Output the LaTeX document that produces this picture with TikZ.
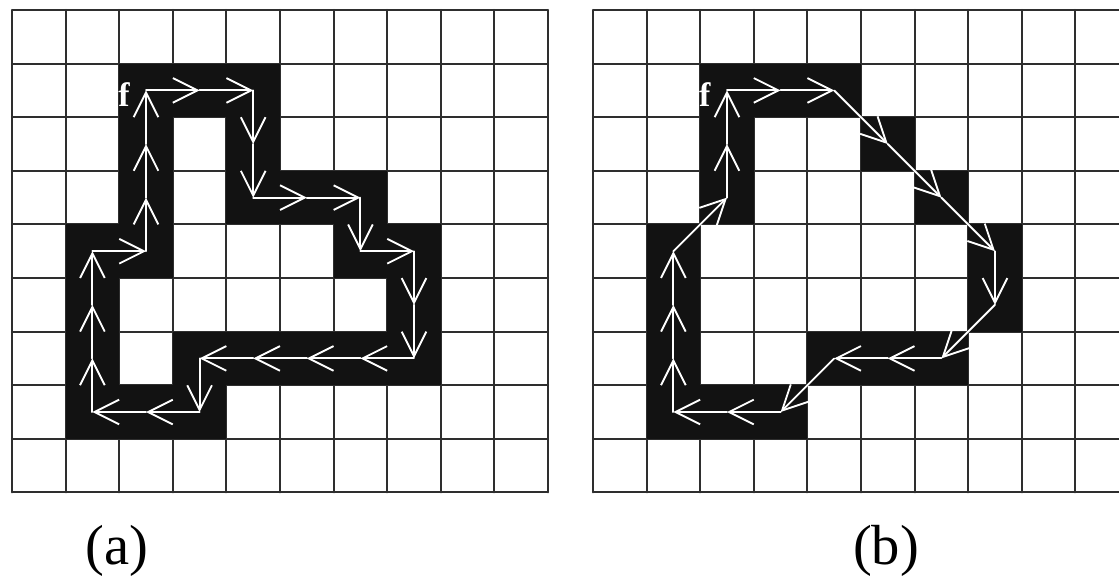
\documentclass[tikz,border=0pt]{standalone}
\usepackage{fontspec}
\setmainfont{Liberation Serif}
\usepackage{tikz}
\usetikzlibrary{arrows.meta, positioning}

\begin{document}
\begin{tikzpicture}[x=1cm, y=-1cm, line cap=round]
        \tikzset{
            cellfill/.style={fill=black!93},
            gridline/.style={draw=black!82, line width=1.1pt},
            trace/.style={draw=white, line width=1pt, -{Straight Barb[length=0.46cm, width=0.46cm, line width=1pt]}},
            panellabel/.style={font=\fontsize{30}{30}\selectfont, inner sep=0pt},
            startlabel/.style={text=white, font=\fontsize{18}{18}\selectfont\bfseries, inner sep=0pt, anchor=east}
        }
        \useasboundingbox (0,0) rectangle (20.877,10.784);
        \clip (0,0) rectangle (20.877,10.784);

        % panel (a): 4-connected chain
        \begin{scope}[shift={(0.224,0.187)}]
            \draw[gridline] (0,0) grid (10,9);
            \foreach \c/\r in {2/1,3/1,4/1, 2/2,4/2, 2/3,4/3,5/3,6/3, 1/4,2/4,6/4,7/4,
                               1/5,7/5, 1/6,3/6,4/6,5/6,6/6,7/6, 1/7,2/7,3/7}
                \fill[cellfill] (\c,\r) rectangle ++(1,1);
            \foreach \c in {0,...,9}
                \foreach \r in {0,...,8}
                    \coordinate (a-\c-\r) at (\c+0.5,\r+0.5);
            \foreach \fc/\fr/\tc/\tr in {2/1/3/1, 3/1/4/1, 4/1/4/2, 4/2/4/3, 4/3/5/3, 5/3/6/3,
                                         6/3/6/4, 6/4/7/4, 7/4/7/5, 7/5/7/6, 7/6/6/6, 6/6/5/6,
                                         5/6/4/6, 4/6/3/6, 3/6/3/7, 3/7/2/7, 2/7/1/7, 1/7/1/6,
                                         1/6/1/5, 1/5/1/4, 1/4/2/4, 2/4/2/3, 2/3/2/2, 2/2/2/1}
                \draw[trace] (a-\fc-\fr) -- (a-\tc-\tr);
            \node[startlabel] (fa) at ([xshift=-0.3cm, yshift=-0.08cm]a-2-1) {f};
        \end{scope}

        % panel (b): 8-connected chain
        \begin{scope}[shift={(11.063,0.187)}]
            \draw[gridline] (0,0) grid (10,9);
            \foreach \c/\r in {2/1,3/1,4/1, 2/2,5/2, 2/3,6/3, 1/4,7/4,
                               1/5,7/5, 1/6,4/6,5/6,6/6, 1/7,2/7,3/7}
                \fill[cellfill] (\c,\r) rectangle ++(1,1);
            \foreach \c in {0,...,9}
                \foreach \r in {0,...,8}
                    \coordinate (b-\c-\r) at (\c+0.5,\r+0.5);
            \foreach \fc/\fr/\tc/\tr in {2/1/3/1, 3/1/4/1, 4/1/5/2, 5/2/6/3, 6/3/7/4, 7/4/7/5,
                                         7/5/6/6, 6/6/5/6, 5/6/4/6, 4/6/3/7, 3/7/2/7, 2/7/1/7,
                                         1/7/1/6, 1/6/1/5, 1/5/1/4, 1/4/2/3, 2/3/2/2, 2/2/2/1}
                \draw[trace] (b-\fc-\fr) -- (b-\tc-\tr);
            \node[startlabel] (fb) at ([xshift=-0.3cm, yshift=-0.08cm]b-2-1) {f};
        \end{scope}

        \node[panellabel] (laba) at (2.183,10.28) {(a)};
        \node[panellabel] (labb) at (16.53,10.28) {(b)};
    \end{tikzpicture}
\end{document}
